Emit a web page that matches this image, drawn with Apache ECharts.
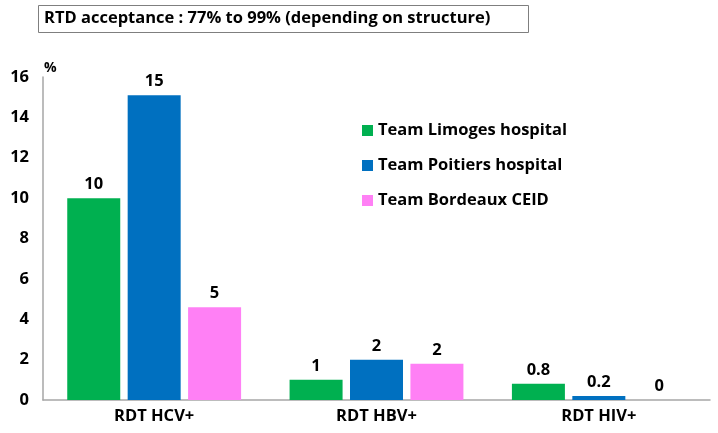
<!DOCTYPE html>
<html><head><meta charset="utf-8">
<script src="https://cdn.jsdelivr.net/npm/echarts@6/dist/echarts.min.js"></script>
<style>html,body{margin:0;padding:0;background:#fff}#c{width:718px;height:433px}</style>
</head><body><div id="c"></div>
<script>
var categories = ['RDT HCV+', 'RDT HBV+', 'RDT HIV+'];
var seriesNames = ['Team Limoges hospital', 'Team Poitiers hospital', 'Team Bordeaux CEID'];
var limoges = [10, 1, 0.8];
var poitiers = [15.1, 2, 0.2];
var bordeaux = [4.6, 1.8, 0];
var limogesLabels = ['10', '1', '0.8'];
var poitiersLabels = ['15', '2', '0.2'];
var bordeauxLabels = ['5', '2', '0'];
var yTicks = [0, 16, 2];
var titleText = 'RTD acceptance : 77% to 99% (depending on structure)';

var FONT = '"Open Sans", Lato, sans-serif';
var FS = 16.5;
var colors = ['#00b050', '#0070c0', '#ff80f5'];
var lbls = [limogesLabels, poitiersLabels, bordeauxLabels];
var vals = [limoges, poitiers, bordeaux];

var chart = echarts.init(document.getElementById('c'));
chart.setOption({
  animation: false,
  graphic: [{
    type: 'rect', left: 38, top: 5,
    shape: { width: 490, height: 27 },
    style: { fill: '#fff', stroke: '#7f7f7f', lineWidth: 1 }
  }],
  title: {
    text: titleText, left: 44, top: 10, padding: 0,
    textStyle: { fontFamily: FONT, fontWeight: 'bold', fontSize: FS, color: '#000' }
  },
  legend: {
    orient: 'vertical', left: 362, top: 122, itemGap: 18, padding: 0,
    itemWidth: 11, itemHeight: 11, icon: 'rect',
    textStyle: { fontFamily: FONT, fontWeight: 'bold', fontSize: FS, color: '#000' },
    data: seriesNames
  },
  grid: { left: 43, right: 8, top: 77, bottom: 33 },
  xAxis: {
    type: 'category', data: categories,
    axisLine: { lineStyle: { color: '#a6a6a6', width: 1.5 } },
    axisTick: { show: false },
    axisLabel: { fontFamily: FONT, fontWeight: 'bold', fontSize: FS, color: '#000', margin: 8 }
  },
  yAxis: {
    type: 'value', min: yTicks[0], max: yTicks[1], interval: yTicks[2],
    name: '%', nameLocation: 'end', nameGap: 2,
    nameTextStyle: { fontFamily: FONT, fontWeight: 'bold', fontSize: 14, color: '#000', align: 'left', padding: [0, 0, 0, 1] },
    axisLine: { show: true, lineStyle: { color: '#a6a6a6', width: 1.5 } },
    axisTick: { show: false },
    splitLine: { show: false },
    axisLabel: { fontFamily: FONT, fontWeight: 'bold', fontSize: FS, color: '#000', margin: 14 }
  },
  series: seriesNames.map(function (n, i) {
    return {
      name: n, type: 'bar', data: vals[i],
      barWidth: 53, barGap: '14%',
      itemStyle: { color: colors[i] },
      label: {
        show: true, position: 'top', distance: 5,
        fontFamily: FONT, fontWeight: 'bold', fontSize: FS, color: '#000',
        formatter: function (p) { return lbls[i][p.dataIndex]; }
      }
    };
  })
});
</script></body></html>
